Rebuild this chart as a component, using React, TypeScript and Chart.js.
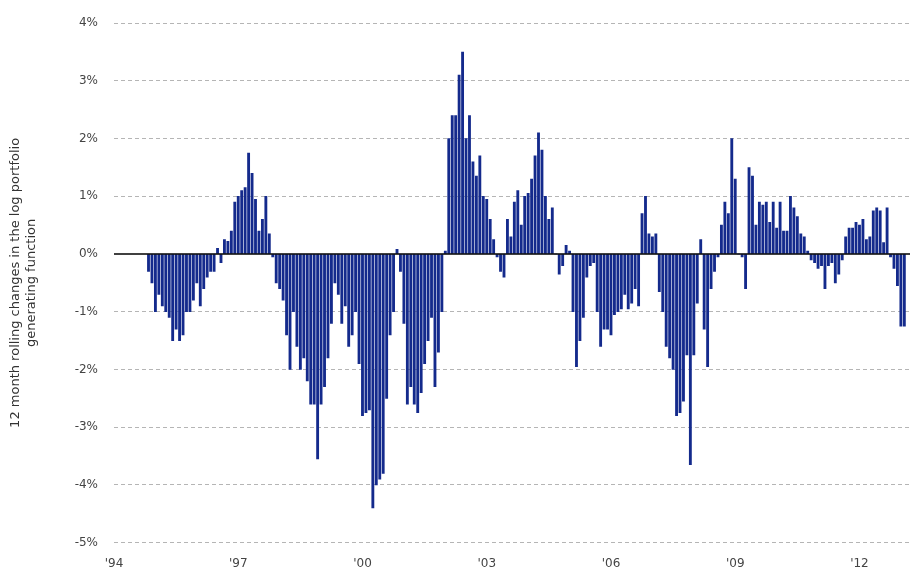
import { Chart, registerables } from "chart.js";
import { useEffect, useRef } from "react";

Chart.register(...registerables);

const startYear = 1994;
const startMonth = 10; // Nov 1994 (0-based)
const tickYears = [1994, 1997, 2000, 2003, 2006, 2009, 2012];

const values: number[] = [
  // 1994 Nov-Dec
  -0.3, -0.5,
  // 1995
  -1.0, -0.7, -0.9, -1.0, -1.1, -1.5, -1.3, -1.5, -1.4, -1.0, -1.0, -0.8,
  // 1996
  -0.5, -0.9, -0.6, -0.4, -0.3, -0.3, 0.1, -0.15, 0.25, 0.22, 0.4, 0.9,
  // 1997
  1.0, 1.1, 1.15, 1.75, 1.4, 0.95, 0.4, 0.6, 1.0, 0.35, -0.05, -0.5,
  // 1998
  -0.6, -0.8, -1.4, -2.0, -1.0, -1.6, -2.0, -1.8, -2.2, -2.6, -2.6, -3.55,
  // 1999
  -2.6, -2.3, -1.8, -1.2, -0.5, -0.7, -1.2, -0.9, -1.6, -1.4, -1.0, -1.9,
  // 2000
  -2.8, -2.75, -2.7, -4.4, -4.0, -3.9, -3.8, -2.5, -1.4, -1.0, 0.08, -0.3,
  // 2001
  -1.2, -2.6, -2.3, -2.6, -2.75, -2.4, -1.9, -1.5, -1.1, -2.3, -1.7, -1.0,
  // 2002
  0.05, 2.0, 2.4, 2.4, 3.1, 3.5, 2.0, 2.4, 1.6, 1.35, 1.7, 1.0,
  // 2003
  0.95, 0.6, 0.25, -0.05, -0.3, -0.4, 0.6, 0.3, 0.9, 1.1, 0.5, 1.0,
  // 2004
  1.05, 1.3, 1.7, 2.1, 1.8, 1.0, 0.6, 0.8, 0.0, -0.35, -0.2, 0.15,
  // 2005
  0.05, -1.0, -1.95, -1.5, -1.1, -0.4, -0.2, -0.15, -1.0, -1.6, -1.3, -1.3,
  // 2006
  -1.4, -1.05, -1.0, -0.95, -0.7, -0.95, -0.85, -0.6, -0.9, 0.7, 1.0, 0.35,
  // 2007
  0.3, 0.35, -0.65, -1.0, -1.6, -1.8, -2.0, -2.8, -2.75, -2.55, -1.75, -3.65,
  // 2008
  -1.75, -0.85, 0.25, -1.3, -1.95, -0.6, -0.3, -0.05, 0.5, 0.9, 0.7, 2.0,
  // 2009
  1.3, 0.0, -0.05, -0.6, 1.5, 1.35, 0.5, 0.9, 0.85, 0.9, 0.55, 0.9,
  // 2010
  0.45, 0.9, 0.4, 0.4, 1.0, 0.8, 0.65, 0.35, 0.3, 0.05, -0.1, -0.15,
  // 2011
  -0.25, -0.2, -0.6, -0.2, -0.15, -0.5, -0.35, -0.1, 0.3, 0.45, 0.45, 0.55,
  // 2012
  0.5, 0.6, 0.25, 0.3, 0.75, 0.8, 0.75, 0.2, 0.8, -0.05, -0.25, -0.55,
  // 2013
  -1.25, -1.25,
];

const points = values.map((v, i) => ({
  x: startYear + (startMonth + i) / 12,
  y: v,
}));

const zeroLine = {
  id: "zeroLine",
  afterDatasetsDraw(chart: Chart) {
    const { ctx, chartArea, scales } = chart;
    const y = scales.y.getPixelForValue(0);
    ctx.save();
    ctx.strokeStyle = "#000";
    ctx.lineWidth = 1.5;
    ctx.beginPath();
    ctx.moveTo(chartArea.left, y);
    ctx.lineTo(chartArea.right, y);
    ctx.stroke();
    ctx.restore();
  },
};

export default function App() {
  const canvasRef = useRef<HTMLCanvasElement | null>(null);

  useEffect(() => {
    if (!canvasRef.current) return;
    const chart = new Chart(canvasRef.current, {
      type: "bar",
      data: {
        datasets: [
          {
            data: points,
            backgroundColor: "#142a8c",
            borderWidth: 0,
            barThickness: 2.2,
          },
        ],
      },
      options: {
        animation: false,
        responsive: false,
        layout: { padding: { top: 18, right: 0, bottom: 0, left: 4 } },
        plugins: { legend: { display: false }, tooltip: { enabled: false } },
        scales: {
          x: {
            type: "linear",
            offset: false,
            min: 1994,
            max: 2013.22,
            grid: { display: false },
            border: { display: false },
            afterBuildTicks: (axis) => {
              axis.ticks = tickYears.map((value) => ({ value }));
            },
            ticks: {
              autoSkip: false,
              maxRotation: 0,
              padding: 6,
              color: "#444",
              font: { family: "DejaVu Sans", size: 12 },
              callback: (v) => "'" + String(v).slice(2),
            },
          },
          y: {
            min: -5,
            max: 4,
            afterFit: (axis) => {
              axis.width = 110;
            },
            grid: {
              color: (ctx) => (ctx.tick.value === 0 ? "rgba(0,0,0,0)" : "#b5b5b5"),
              drawTicks: false,
            },
            border: { display: false, dash: [4, 3] },
            ticks: {
              stepSize: 1,
              padding: 16,
              color: "#444",
              font: { family: "DejaVu Sans", size: 12 },
              callback: (v) => v + "%",
            },
            title: {
              display: true,
              text: ["12 month rolling changes in the log portfolio", "generating function"],
              color: "#333",
              font: { family: "DejaVu Sans", size: 13 },
            },
          },
        },
      },
      plugins: [zeroLine],
    });
    return () => chart.destroy();
  }, []);

  return (
    <div style={{ position: "absolute", top: 0, left: 0, background: "#fff" }}>
      <canvas ref={canvasRef} width={910} height={577} />
    </div>
  );
}
